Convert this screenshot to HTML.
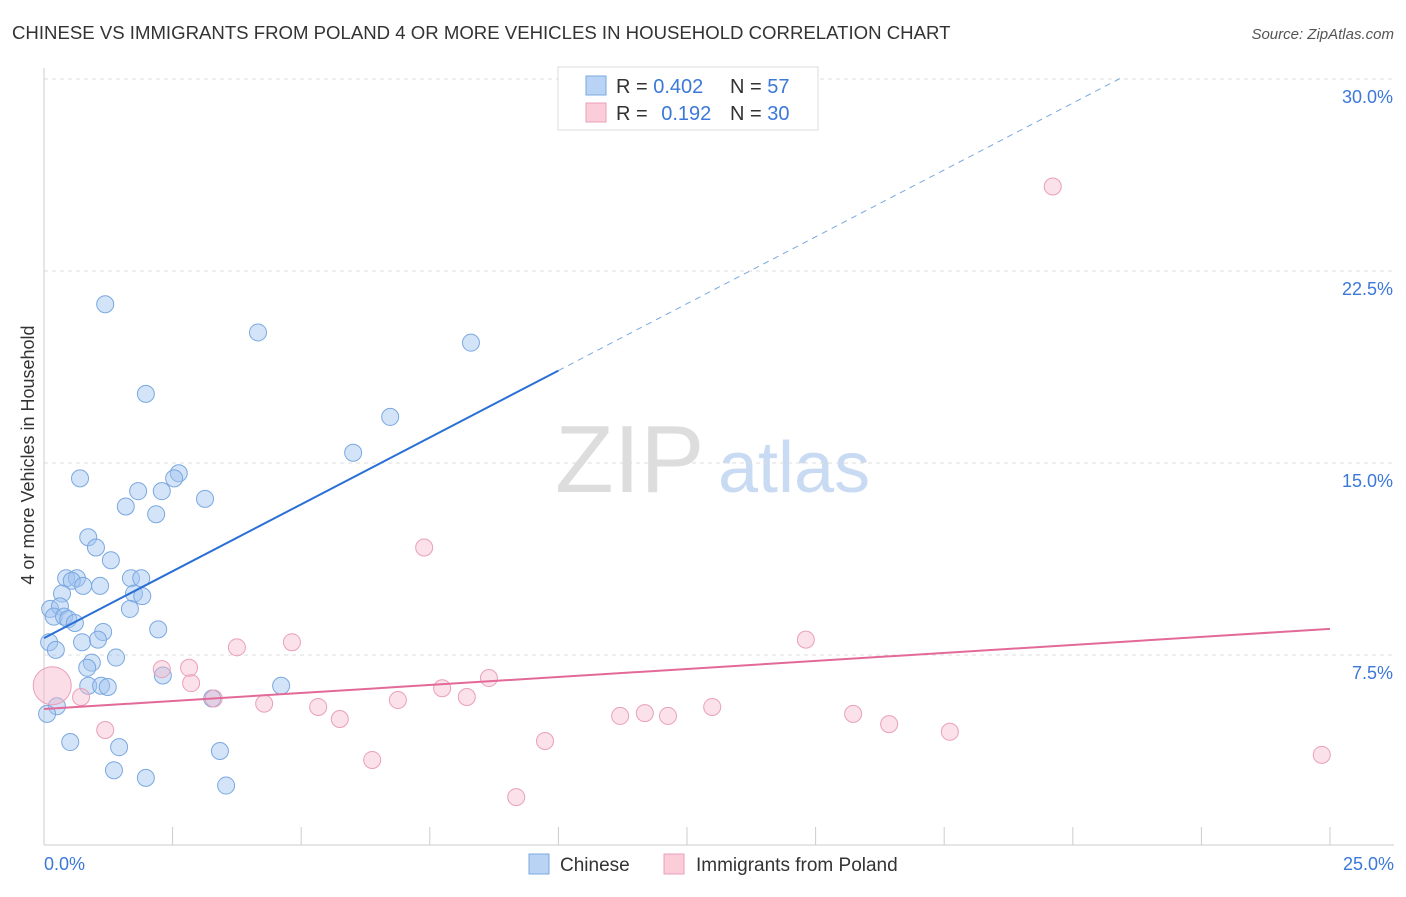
<!DOCTYPE html>
<html><head><meta charset="utf-8"><style>
body{margin:0;background:#fff;font-family:"Liberation Sans",sans-serif;}
svg text{font-family:"Liberation Sans",sans-serif;}
</style></head><body>
<svg id="c" width="1406" height="892" xmlns="http://www.w3.org/2000/svg">
<text x="12" y="39" font-size="18.6" fill="#333">CHINESE VS IMMIGRANTS FROM POLAND 4 OR MORE VEHICLES IN HOUSEHOLD CORRELATION CHART</text>
<text x="1394" y="39" font-size="15" fill="#555" font-style="italic" text-anchor="end">Source: ZipAtlas.com</text>
<text x="555" y="492" font-size="96" fill="#ddd" font-family="Liberation Serif">ZIP</text>
<text x="718" y="492" font-size="72" fill="#c8dbf3">atlas</text>
<text transform="translate(34,455) rotate(-90)" font-size="18" fill="#333" text-anchor="middle">4 or more Vehicles in Household</text>
<g id="grid"></g><g id="pts"></g><g id="lines"></g>
<g>
<rect x="558" y="67" width="260" height="63" fill="#fff" stroke="#ddd"/>
<rect x="586" y="76" width="20" height="19" fill="#b9d3f5" stroke="#7aa8e0"/>
<rect x="586" y="103" width="20" height="19" fill="#fbcdd9" stroke="#eaa0b8"/>
<text x="616" y="93" font-size="20" fill="#333">R = <tspan fill="#3b78d8">0.402</tspan></text>
<text x="730" y="93" font-size="20" fill="#333">N = <tspan fill="#3b78d8">57</tspan></text>
<text x="616" y="120" font-size="20" fill="#333">R = <tspan fill="#3b78d8" dx="8">0.192</tspan></text>
<text x="730" y="120" font-size="20" fill="#333">N = <tspan fill="#3b78d8">30</tspan></text>
</g>
<g>
<rect x="529" y="854" width="20" height="20" fill="#b9d3f5" stroke="#7aa8e0"/>
<text x="560" y="871" font-size="19" fill="#333">Chinese</text>
<rect x="664" y="854" width="20" height="20" fill="#fbcdd9" stroke="#eaa0b8"/>
<text x="696" y="871" font-size="19" fill="#333">Immigrants from Poland</text>
</g>
</svg>
<script>
const blueX=[1.19,4.16,8.30,1.98,6.73,6.01,0.70,2.62,2.53,1.83,2.29,3.13,1.59,2.18,0.86,1.01,1.30,0.43,0.64,0.54,0.76,1.09,1.69,1.89,1.75,1.91,0.35,1.67,0.12,0.31,0.19,0.39,0.47,0.60,1.15,2.22,0.10,0.74,1.05,0.23,0.93,0.84,1.40,2.31,0.86,1.11,1.24,4.61,3.27,0.25,0.06,0.51,1.46,3.42,1.36,1.98,3.54];
const blueY=[21.2,20.1,19.7,17.7,16.8,15.4,14.4,14.6,14.4,13.9,13.9,13.6,13.3,13.0,12.1,11.7,11.2,10.5,10.5,10.4,10.2,10.2,10.5,10.5,9.9,9.8,9.9,9.3,9.3,9.4,9.0,9.0,8.9,8.75,8.4,8.5,8.0,8.0,8.1,7.7,7.2,7.0,7.4,6.7,6.3,6.3,6.25,6.3,5.8,5.5,5.2,4.1,3.9,3.75,3.0,2.7,2.4];
const pinkX=[19.61,7.39,14.81,4.82,3.75,2.29,2.86,2.82,8.65,7.74,8.22,0.72,3.30,6.88,4.28,5.33,5.75,12.99,11.68,11.20,12.13,15.73,16.43,17.61,1.19,9.74,6.38,9.18,24.84];
const pinkY=[25.8,11.7,8.1,8.0,7.8,6.95,6.4,7.0,6.6,6.2,5.86,5.86,5.8,5.74,5.6,5.47,5.0,5.47,5.23,5.12,5.12,5.2,4.8,4.5,4.57,4.14,3.4,1.95,3.6];
const bigPink=[0.16,6.3];
const yTicks=[7.5,15,22.5,30];
const yTickLabels=["7.5%","15.0%","22.5%","30.0%"];
const blueTrend=[8.16,1.045];
const pinkTrend=[5.39,0.1252];
const X=v=>44+v/25*1286, Y=v=>847-v/7.5*192;
const NS="http://www.w3.org/2000/svg";
function mk(p,tag,at){const e=document.createElementNS(NS,tag);for(const k in at)e.setAttribute(k,at[k]);document.getElementById(p).appendChild(e);return e;}
yTicks.forEach((t,i)=>{
 const g=mk('grid','line',{x1:44,x2:1394,y1:Y(t),y2:Y(t),stroke:'#ddd','stroke-dasharray':'4,4'});
 
 
 const l=mk('grid','text',{x:1393,y:Y(t)+24,'text-anchor':'end','font-size':18,fill:'#3b78d8'});l.textContent=yTickLabels[i];
 
 
});
const ax=mk('grid','line',{x1:44,x2:1394,y1:845,y2:845,stroke:'#ccc'});


const ay=mk('grid','line',{x1:44,x2:44,y1:68,y2:845,stroke:'#ccc'});


for(let i=0;i<=10;i++){const t=mk('grid','line',{x1:X(i*2.5),x2:X(i*2.5),y1:827,y2:845,stroke:'#ccc'});
 
 }
[["0.0%",44,'start'],["25.0%",1394,'end']].forEach(a=>{const t=mk('grid','text',{x:a[1],y:870,'font-size':18,fill:'#3b78d8','text-anchor':a[2]});t.textContent=a[0];
 
 });
blueX.forEach((x,i)=>{const c=mk('pts','circle',{cx:X(x),cy:Y(blueY[i]),r:8.5,fill:'rgba(160,195,240,0.45)',stroke:'#7aa8e0','stroke-width':1});
 
 });
pinkX.forEach((x,i)=>{const c=mk('pts','circle',{cx:X(x),cy:Y(pinkY[i]),r:8.5,fill:'rgba(245,180,200,0.4)',stroke:'#eaa0b8','stroke-width':1});
 
 });
const bp=mk('pts','circle',{cx:X(bigPink[0]),cy:Y(bigPink[1]),r:19,fill:'rgba(245,180,200,0.45)',stroke:'#eaa0b8'});


const bx=(30.1-blueTrend[0])/blueTrend[1];
const b1=mk('lines','line',{x1:X(0),y1:Y(blueTrend[0]),x2:X(10),y2:Y(blueTrend[0]+10*blueTrend[1]),stroke:'#2a6fd6','stroke-width':2});


const b2=mk('lines','line',{x1:X(10),y1:Y(blueTrend[0]+10*blueTrend[1]),x2:X(bx),y2:Y(30.1),stroke:'#7aa8e0','stroke-width':1,'stroke-dasharray':'6,5'});


const p1=mk('lines','line',{x1:X(0),y1:Y(pinkTrend[0]),x2:X(25),y2:Y(pinkTrend[0]+25*pinkTrend[1]),stroke:'#e36a98','stroke-width':2});


</script>
</body></html>
